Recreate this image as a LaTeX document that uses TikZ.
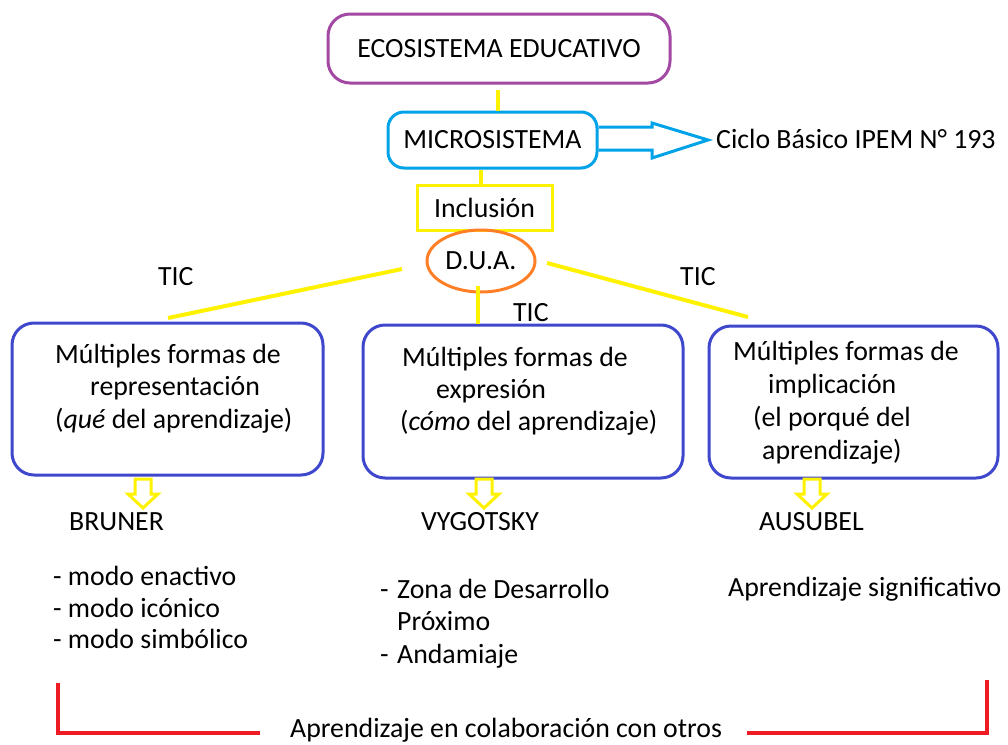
\documentclass[tikz,border=0pt]{standalone}
\usepackage{fontspec}
\setmainfont{Carlito}
\usetikzlibrary{calc,shapes.geometric}
\definecolor{cpurple}{HTML}{A349A4}
\definecolor{ccyan}{HTML}{00A2E8}
\definecolor{cyell}{HTML}{FFF200}
\definecolor{corange}{HTML}{FF7F27}
\definecolor{cblue}{HTML}{3F48CC}
\definecolor{cred}{HTML}{ED1C24}
\begin{document}
\begin{tikzpicture}[x=1pt,y=-1pt,
  font=\fontsize{27.8}{33}\selectfont,
  txt/.style={inner sep=0pt, anchor=base west},
  bigbox/.style={draw=cblue, line width=3pt, rounded corners=22pt, inner sep=0pt},
  yl/.style={draw=cyell, line width=4pt},
  hollowdown/.style={draw=cyell, line width=3pt, line join=miter},
  pics/hdown/.style={code={
    \draw[hollowdown] (-8,0) -- (8,0) -- (8,15) -- (15,15) -- (0,29) -- (-15,15) -- (-8,15) -- cycle;}}
]
\useasboundingbox (0,0) rectangle (1008,744);
\fill[white] (0,0) rectangle (1008,744);

% top chain
\node[draw=cpurple, line width=3pt, rounded corners=22pt, minimum width=342pt, minimum height=69pt, inner sep=0pt] (eco) at (499,48.5) {ECOSISTEMA EDUCATIVO};
\node[draw=ccyan, line width=3pt, rounded corners=16pt, minimum width=209pt, minimum height=56pt, inner sep=0pt] (micro) at (492.5,140) {MICROSISTEMA};
\node[draw=cyell, line width=3pt, minimum width=135pt, minimum height=45pt, inner sep=0pt] (incl) at (484.5,207.5) {Inclusión};
\node[draw=corange, line width=3pt, ellipse, minimum width=108pt, minimum height=62pt, inner sep=0pt] (dua) at (481,261) {\raisebox{-3pt}{D.U.A.}};

\draw[yl] ([xshift=-1pt,yshift=-5pt]eco.south) -- ([xshift=-1pt]eco.south |- micro.north);
\draw[yl] ([xshift=-4pt]incl.north) -- ([xshift=-4pt]incl.north |- micro.south);

% hollow arrow to Ciclo Basico
\node[txt] (ciclo) at (716,148) {Ciclo Básico IPEM N° 193};
\draw[draw=ccyan, line width=3pt, line join=miter]
  ($(micro.east)+(0,-13)$) -- (652,127) -- (652,123) -- ([xshift=-8pt]ciclo.west |- micro.east) -- (652,158) -- (652,150) -- ($(micro.east)+(0,10)$);

% three boxes
\node[bigbox, minimum width=311pt, minimum height=152pt] (b1) at (167.5,399) {};
\node[bigbox, minimum width=320pt, minimum height=153pt] (b2) at (523,401.5) {};
\node[bigbox, minimum width=289pt, minimum height=152pt] (b3) at (853.5,402) {};

% connectors from D.U.A.
\coordinate (l1a) at (402,269);
\coordinate (l1b) at (168,318);
\coordinate (r1a) at (547,263);
\coordinate (r1b) at (748,317);
\draw[yl] (l1a) -- (l1b);
\draw[yl] (r1a) -- (r1b);
\draw[yl] ([xshift=-3pt,yshift=8pt]dua.south) -- ([xshift=-3pt]dua.south |- b2.north);

\node[txt] (tic1) at (158,285) {TIC};
\node[txt] (tic2) at (513,321) {TIC};
\node[txt] (tic3) at (680,285) {TIC};

% box texts
\node[txt] (b1a) at (55,363) {Múltiples formas de};
\node[txt] (b1b) at (90,395) {representación};
\node[txt] (b1c) at (55,428) {(\textit{qué} del aprendizaje)};

\node[txt] (b2a) at (402,366) {Múltiples formas de};
\node[txt] (b2b) at (436,398) {expresión};
\node[txt] (b2c) at (400,430) {(\textit{cómo} del aprendizaje)};

\node[txt] (b3a) at (733,360) {Múltiples formas de};
\node[txt] (b3b) at (768,393) {implicación};
\node[txt] (b3c) at (753,426) {(el porqué del};
\node[txt] (b3d) at (762,459) {aprendizaje)};

% small hollow arrows
\pic at (143,479) {hdown};
\pic at (484,479) {hdown};
\pic at (812,479) {hdown};

\node[txt] (bruner) at (69,530) {BRUNER};
\node[txt] (vyg) at (421,530) {VYGOTSKY};
\node[txt] (aus) at (759,530) {AUSUBEL};

\node[txt] (br1) at (53,585) {- modo enactivo};
\node[txt] (br2) at (53,617) {- modo icónico};
\node[txt] (br3) at (53,648) {- modo simbólico};

\node[txt] (vd1) at (380,598) {-};
\node[txt] (vy1) at (397,598) {Zona de Desarrollo};
\node[txt] (vy2) at (397,630) {Próximo};
\node[txt] (vd2) at (380,663) {-};
\node[txt] (vy3) at (397,663) {Andamiaje};

\node[txt] (au1) at (728,596) {Aprendizaje significativo};

% bottom bracket
\node[txt] (colab) at (290,737) {Aprendizaje en colaboración con otros};
\coordinate (rl) at (58,683);
\coordinate (rr) at (987,680);
\draw[draw=cred, line width=3.5pt] (rl) |- ([xshift=-30pt]colab.west |- 0,733);
\draw[draw=cred, line width=3.5pt] ([xshift=25pt]colab.east |- 0,733) -| (rr);
\end{tikzpicture}
\end{document}
